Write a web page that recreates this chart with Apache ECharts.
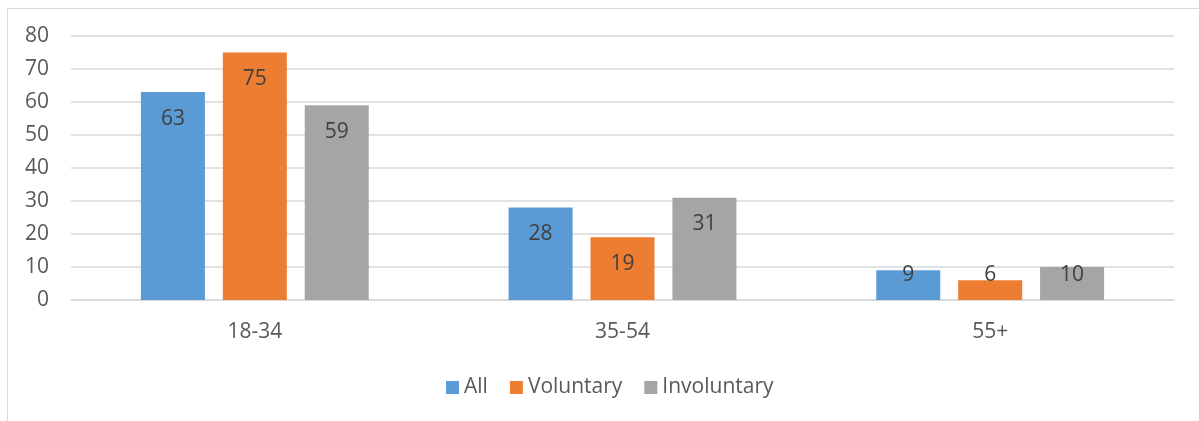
<!DOCTYPE html>
<html><head><meta charset="utf-8">
<script src="https://cdn.jsdelivr.net/npm/echarts@6/dist/echarts.min.js"></script>
<style>html,body{margin:0;padding:0;background:#fff}#c{width:1199px;height:421px}</style>
</head><body><div id="c"></div>
<script>
const categories = ['18-34', '35-54', '55+'];
const seriesNames = ['All', 'Voluntary', 'Involuntary'];
const allValues = [63, 28, 9];
const voluntaryValues = [75, 19, 6];
const involuntaryValues = [59, 31, 10];
const yTicks = [0, 10, 20, 30, 40, 50, 60, 70, 80];

const colors = ['#5B9BD5', '#ED7D31', '#A5A5A5'];
const FONT = 'Open Sans';

function makeData(vals) {
  return vals.map(v => v < 15
    ? { value: v, label: { position: 'insideBottom', distance: 14 } }
    : { value: v });
}
const seriesVals = [allValues, voluntaryValues, involuntaryValues];

const chart = echarts.init(document.getElementById('c'), null, { renderer: 'canvas' });
chart.setOption({
  animation: false,
  textStyle: { fontFamily: FONT },
  graphic: [{
    type: 'rect', shape: { x: 7.5, y: 8.5, width: 1200, height: 420 },
    style: { fill: 'none', stroke: '#D9D9D9', lineWidth: 1 }, silent: true
  }],
  grid: { left: 71, right: 25, top: 36, bottom: 121, containLabel: false },
  legend: {
    top: 372, left: 441, itemWidth: 13, itemHeight: 13, itemGap: 22,
    icon: 'rect',
    textStyle: { fontSize: 21, color: '#595959', fontFamily: FONT },
    data: seriesNames
  },
  xAxis: {
    type: 'category', data: categories,
    axisLine: { lineStyle: { color: '#D9D9D9', width: 1.5 } },
    axisTick: { show: false },
    axisLabel: { fontSize: 21, color: '#595959', margin: 22, fontFamily: FONT }
  },
  yAxis: {
    type: 'value', min: yTicks[0], max: yTicks[yTicks.length - 1], interval: 10,
    axisLine: { show: false }, axisTick: { show: false },
    splitLine: { lineStyle: { color: '#D9D9D9', width: 1.5 } },
    axisLabel: { fontSize: 21, color: '#595959', margin: 22, fontFamily: FONT }
  },
  series: seriesNames.map((n, i) => ({
    name: n, type: 'bar', barWidth: 64, barGap: '28%',
    itemStyle: { color: colors[i] },
    label: {
      show: true, position: 'insideTop', distance: 16,
      fontSize: 21, color: '#404040', fontFamily: FONT
    },
    data: makeData(seriesVals[i])
  }))
});
</script></body></html>
